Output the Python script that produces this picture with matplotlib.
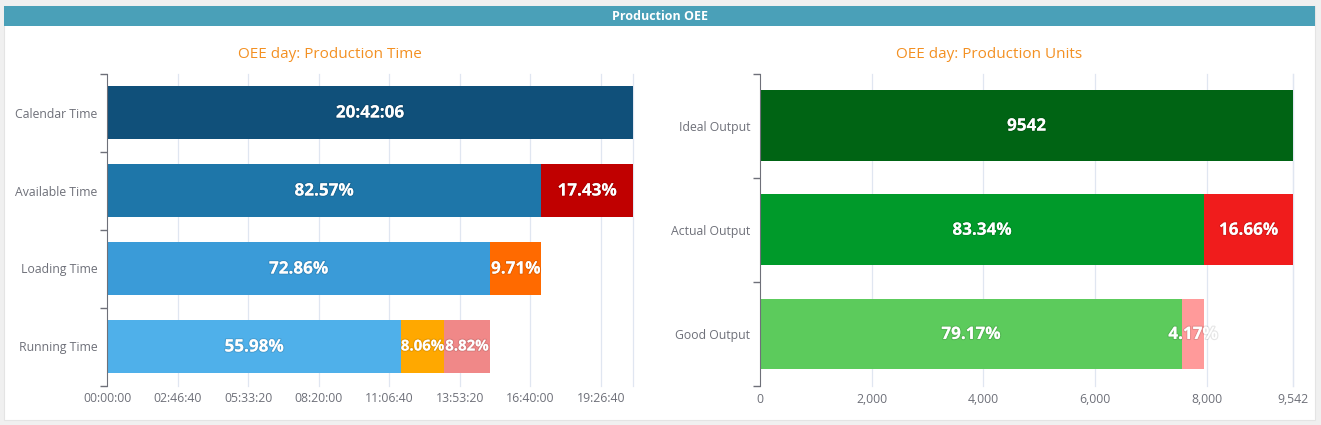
import matplotlib.pyplot as plt
import matplotlib.patheffects as pe
from matplotlib.patches import Rectangle

plt.rcParams['font.family'] = ['Open Sans', 'DejaVu Sans']

# left chart: production time (seconds), segments as % of calendar time
time_categories = ['Calendar Time', 'Available Time', 'Loading Time', 'Running Time']
calendar_seconds = 74526  # 20:42:06
time_segments = [[100.0], [82.57, 17.43], [72.86, 9.71], [55.98, 8.06, 8.82]]
time_colors = [['#10507a'], ['#1e76a9', '#c00000'], ['#3a9bd8', '#ff6a00'],
               ['#4fb0ea', '#ffa800', '#f08888']]
time_ticks = [0, 10000, 20000, 30000, 40000, 50000, 60000, 70000]

# right chart: production units
unit_categories = ['Ideal Output', 'Actual Output', 'Good Output']
ideal_units = 9542
unit_segments = [[100.0], [83.34, 16.66], [79.17, 4.17]]
unit_colors = [['#006414'], ['#009a2a', '#f01c1c'], ['#5ccb5c', '#ff9a9a']]
unit_ticks = [0, 2000, 4000, 6000, 8000, 9542]

W, H = 1321, 425
fig = plt.figure(figsize=(W / 100, H / 100), dpi=100, facecolor='#f0f0f0')

def fx(px):
    return px / W

def fy(py):
    return 1 - py / H

# white panel + header strip
fig.patches.append(Rectangle((fx(4), fy(420)), fx(1315) - fx(4), fy(6) - fy(420),
                             transform=fig.transFigure, facecolor='white',
                             edgecolor='#e4e4e4', lw=0.8, zorder=-10))
fig.patches.append(Rectangle((fx(4), fy(26)), fx(1315) - fx(4), fy(6) - fy(26),
                             transform=fig.transFigure, facecolor='#4aa0b8',
                             edgecolor='none', zorder=-9))
fig.text(fx(660), fy(16.5), 'Production OEE', color='white', fontsize=9,
         fontweight='bold', ha='center', va='center')


def hms(s):
    s = int(round(s))
    return '%02d:%02d:%02d' % (s // 3600, (s % 3600) // 60, s % 60)


# faint outline so labels spilling past a bar stay readable, as in the original
label_fx = [pe.withStroke(linewidth=1.6, foreground=(0, 0, 0, 0.1))]


def draw(ax, cats, segs, colors, total, first_label, ticks, tick_fmt, bar_h):
    n = len(cats)
    for i, (row, cols) in enumerate(zip(segs, colors)):
        y = n - 1 - i
        left = 0
        # rows with several thin segments get slightly smaller labels
        size = 10.8 if len(row) > 2 else 12.3
        for j, (pct, c) in enumerate(zip(row, cols)):
            w = pct / 100 * total
            ax.barh(y, w, left=left, height=bar_h, color=c, edgecolor='none', zorder=2)
            txt = first_label if i == 0 else '%.2f%%' % pct
            fs = size if j > 0 else 12.3
            ax.text(left + w / 2, y, txt, color='white', fontsize=fs,
                    fontweight='bold', ha='center', va='center', zorder=3,
                    path_effects=label_fx)
            left += w
    ax.set_xlim(0, total)
    ax.set_ylim(-0.5, n - 0.5)
    ax.set_xticks(ticks)
    ax.set_xticklabels([tick_fmt(t) for t in ticks])
    for t in list(ticks[1:]) + [total]:
        ax.plot([t, t], [-0.5, n - 0.5], color='#e0e6f1', lw=0.9, zorder=1,
                clip_on=False)
    ax.set_yticks(range(n))
    ax.set_yticklabels(cats[::-1])
    ax.set_yticks([k - 0.5 for k in range(n + 1)], minor=True)
    ax.tick_params(axis='y', which='major', length=0, pad=7, labelsize=8.8,
                   labelcolor='#6e7079')
    ax.tick_params(axis='y', which='minor', length=5, color='#6e7079', width=1)
    ax.tick_params(axis='x', length=0, pad=5, labelsize=8.8, labelcolor='#6e7079')
    for s in ['top', 'right', 'bottom']:
        ax.spines[s].set_visible(False)
    ax.spines['left'].set_color('#6e7079')
    ax.set_facecolor('none')


ax1 = fig.add_axes([fx(107), fy(385.5), fx(633) - fx(107), fy(73.5) - fy(385.5)])
draw(ax1, time_categories, time_segments, time_colors, calendar_seconds,
     hms(calendar_seconds), time_ticks, hms, 0.68)

ax2 = fig.add_axes([fx(760), fy(386), fx(1293) - fx(760), fy(73.5) - fy(386)])
draw(ax2, unit_categories, unit_segments, unit_colors, ideal_units,
     str(ideal_units), unit_ticks, lambda v: '{:,}'.format(int(v)), 0.68)

fig.text(fx(330), fy(54), 'OEE day: Production Time', color='#f39022',
         fontsize=11, fontweight='medium', ha='center', va='center')
fig.text(fx(989), fy(54), 'OEE day: Production Units', color='#f39022',
         fontsize=11, fontweight='medium', ha='center', va='center')

fig.savefig('out.png', dpi=100, facecolor=fig.get_facecolor())
